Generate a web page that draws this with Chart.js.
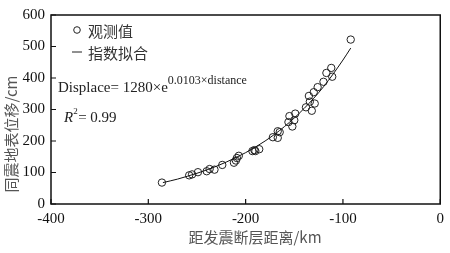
<!DOCTYPE html>
<html>
<head>
<meta charset="utf-8">
<script src="https://cdn.jsdelivr.net/npm/chart.js@4.4.1/dist/chart.umd.min.js"></script>
<style>
  html, body { margin: 0; padding: 0; background: #fff; }
  #wrap { width: 450px; height: 253px; }
</style>
</head>
<body>
<div id="wrap"><canvas id="chart" width="450" height="253"></canvas></div>
<script>
// 观测值 (距离 km, 位移 cm)
const obsDistance = [-286, -258, -255, -249, -240, -237, -232, -224, -212, -210, -209, -207,
  -193, -191, -190, -186, -172, -167, -167, -165, -155, -156, -152, -150, -149,
  -138, -135, -134, -132, -129, -130, -126, -120, -117, -112, -111, -92];
const obsDisplace = [68, 91, 94, 101, 104, 111, 109, 124, 131, 138, 146, 153,
  168, 171, 168, 174, 212, 210, 231, 228, 279, 260, 246, 266, 287,
  307, 343, 325, 296, 319, 355, 371, 388, 416, 432, 404, 522];

// 指数拟合曲线 (读自图中)
const fitDistance = [-285, -270, -260, -240, -220, -200, -180, -160, -140, -120, -100, -92];
const fitDisplace = [68, 79, 88, 108, 133, 163, 200, 246, 303, 372, 457, 495];

const xTicks = [-400, -300, -200, -100, 0];
const yTicks = [0, 100, 200, 300, 400, 500, 600];

const serif = '"Liberation Serif", "Times New Roman", serif';
const cjk = '"Noto Sans CJK SC", sans-serif';

// 边框、内向刻度、标题、图例和公式
const decorPlugin = {
  id: 'decor',
  afterDraw(chart) {
    const ctx = chart.ctx;
    const a = chart.chartArea;
    const xs = chart.scales.x, ys = chart.scales.y;
    ctx.save();
    ctx.strokeStyle = '#111';
    ctx.lineWidth = 1.5;
    ctx.strokeRect(a.left, a.top, a.right - a.left, a.bottom - a.top);

    ctx.lineWidth = 1.2;
    ctx.beginPath();
    yTicks.forEach(v => {
      const y = ys.getPixelForValue(v);
      ctx.moveTo(a.left, y); ctx.lineTo(a.left + 5, y);
    });
    xTicks.forEach(v => {
      const x = xs.getPixelForValue(v);
      ctx.moveTo(x, a.bottom); ctx.lineTo(x, a.bottom - 5);
    });
    ctx.stroke();

    // 轴标题
    ctx.fillStyle = '#555';
    ctx.font = '15px ' + cjk;
    ctx.textAlign = 'center';
    ctx.textBaseline = 'middle';
    ctx.fillText('距发震断层距离/km', 255, 237);
    ctx.save();
    ctx.translate(11, 134);
    ctx.rotate(-Math.PI / 2);
    ctx.fillText('同震地表位移/cm', 0, 0);
    ctx.restore();

    // 图例
    ctx.fillStyle = '#333';
    ctx.textAlign = 'left';
    ctx.strokeStyle = '#222';
    ctx.lineWidth = 1;
    ctx.beginPath();
    ctx.arc(77, 30, 3.3, 0, Math.PI * 2);
    ctx.stroke();
    ctx.fillText('观测值', 88, 31);
    ctx.beginPath();
    ctx.moveTo(72, 52); ctx.lineTo(82, 52);
    ctx.stroke();
    ctx.fillText('指数拟合', 88, 53);

    // 公式
    ctx.fillStyle = '#222';
    ctx.textBaseline = 'alphabetic';
    ctx.font = '15px ' + serif;
    const eq = 'Displace= 1280×e';
    ctx.fillText(eq, 58, 92);
    const w = ctx.measureText(eq).width;
    ctx.font = '12px ' + serif;
    ctx.fillText('0.0103×distance', 58 + w, 84);

    ctx.font = 'italic 15px ' + serif;
    ctx.fillText('R', 64, 122);
    const rw = ctx.measureText('R').width;
    ctx.font = '9px ' + serif;
    ctx.fillText('2', 64 + rw, 114);
    ctx.font = '15px ' + serif;
    ctx.fillText('= 0.99', 64 + rw + 5, 122);
    ctx.restore();
  }
};

new Chart(document.getElementById('chart').getContext('2d'), {
  type: 'scatter',
  data: {
    datasets: [
      {
        label: '指数拟合',
        data: fitDistance.map((d, i) => ({ x: d, y: fitDisplace[i] })),
        showLine: true,
        borderColor: '#111',
        borderWidth: 1,
        pointRadius: 0,
        cubicInterpolationMode: 'monotone',
        fill: false
      },
      {
        label: '观测值',
        data: obsDistance.map((d, i) => ({ x: d, y: obsDisplace[i] })),
        showLine: false,
        pointStyle: 'circle',
        pointRadius: 3.7,
        borderWidth: 1,
        borderColor: '#222',
        backgroundColor: 'rgba(0,0,0,0)'
      }
    ]
  },
  options: {
    responsive: false,
    animation: false,
    layout: { padding: { top: 6, right: 4, left: 0, bottom: 0 } },
    plugins: {
      legend: { display: false },
      tooltip: { enabled: false }
    },
    scales: {
      x: {
        type: 'linear',
        min: -400,
        max: 0,
        afterBuildTicks: s => { s.ticks = xTicks.map(v => ({ value: v })); },
        afterFit: s => { s.height = 49; },
        grid: { display: false, drawTicks: false },
        border: { display: false },
        ticks: { padding: 6, color: '#111', font: { family: serif, size: 15 } }
      },
      y: {
        type: 'linear',
        min: 0,
        max: 600,
        afterBuildTicks: s => { s.ticks = yTicks.map(v => ({ value: v })); },
        afterFit: s => { s.width = 51; },
        grid: { display: false, drawTicks: false },
        border: { display: false },
        ticks: { padding: 6, color: '#111', font: { family: serif, size: 15 } }
      }
    }
  },
  plugins: [decorPlugin]
});
</script>
</body>
</html>
